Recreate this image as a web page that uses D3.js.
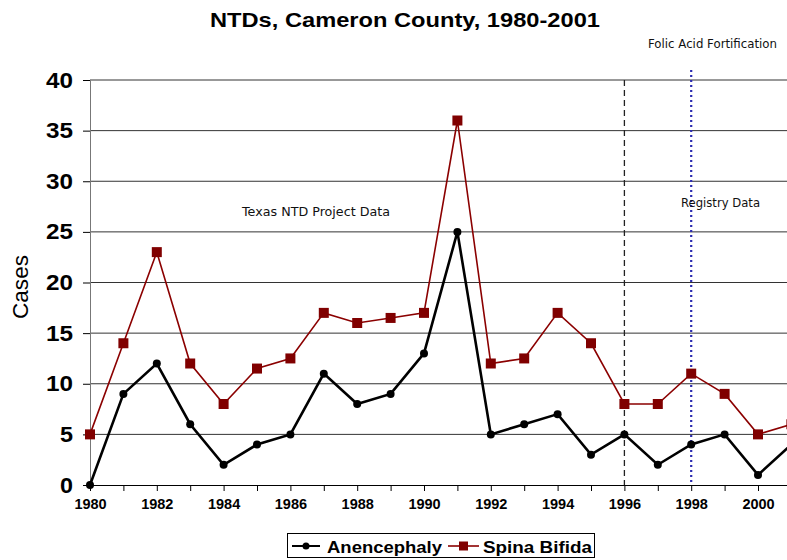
<!DOCTYPE html>
<html>
<head>
<meta charset="utf-8">
<script src="https://cdn.jsdelivr.net/npm/d3@7"></script>
<style>
  body { margin: 0; background: #fff; }
  svg { display: block; font-family: Arial, "Liberation Sans", sans-serif; }
</style>
</head>
<body>
<script>
// Data
const years = d3.range(1980, 2002)
const anencephaly = [0, 9, 12, 6, 2, 4, 5, 11, 8, 9, 13, 25, 5, 6, 7, 3, 5, 2, 4, 5, 1, 4]
const spinaBifida = [5, 14, 23, 12, 8, 11.5, 12.5, 17, 16, 16.5, 17, 36, 12, 12.5, 17, 14, 8, 8, 11, 9, 5, 6]
const yTicks = [0, 5, 10, 15, 20, 25, 30, 35, 40]
const xLabelYears = [1980, 1982, 1984, 1986, 1988, 1990, 1992, 1994, 1996, 1998, 2000]

const width = 787, height = 560
const margin = { top: 80, right: 0, bottom: 75, left: 90 }

const svg = d3.select('body').append('svg')
    .attr('width', width)
    .attr('height', height)

// Scales
const x = d3.scaleLinear().domain([1980, 2000]).range([margin.left, 758])
const y = d3.scaleLinear().domain([0, 40]).range([485, 80])

// clip for plot area (chart is cut at right)
svg.append('clipPath').attr('id', 'clip')
  .append('rect').attr('x', margin.left - 8).attr('y', 60).attr('width', width).attr('height', 440)

// Gridlines
svg.append('g').selectAll('line')
  .data(yTicks.filter(d => d > 0))
  .enter().append('line')
    .attr('x1', margin.left).attr('x2', width)
    .attr('y1', d => y(d)).attr('y2', d => y(d))
    .attr('stroke', '#333').attr('stroke-width', 1)

// Y axis
const yAxis = svg.append('g')
    .attr('transform', `translate(${margin.left},0)`)
    .call(d3.axisLeft(y).tickValues(yTicks).tickSize(7).tickPadding(10))
yAxis.select('.domain').attr('stroke', '#777')
yAxis.selectAll('.tick line').attr('stroke', '#000')
yAxis.selectAll('text').attr('font-size', 22).attr('font-weight', 'bold').attr('fill', '#000')
    .attr('textLength', d => d >= 10 ? 27 : 13).attr('lengthAdjust', 'spacingAndGlyphs')

// X axis
const xAxis = svg.append('g')
    .attr('transform', `translate(0,${y(0)})`)
    .call(d3.axisBottom(x).tickValues(years).tickSize(6).tickPadding(8)
      .tickFormat(d => xLabelYears.includes(d) ? d : ''))
xAxis.select('.domain').attr('d', `M${margin.left},0.5H${width}`).attr('stroke', '#000')
xAxis.selectAll('text').attr('font-size', 14.5).attr('font-weight', 'bold').attr('fill', '#000')

// Reference lines
svg.append('line')
    .attr('x1', x(1996)).attr('x2', x(1996))
    .attr('y1', y(40)).attr('y2', y(0))
    .attr('stroke', '#222').attr('stroke-width', 1.3).attr('stroke-dasharray', '6,4')
svg.append('line')
    .attr('x1', x(1998)).attr('x2', x(1998))
    .attr('y1', 70).attr('y2', y(0))
    .attr('stroke', '#2b2bb0').attr('stroke-width', 2.2).attr('stroke-dasharray', '2,3')

const plot = svg.append('g').attr('clip-path', 'url(#clip)')

// Spina Bifida line
const sbData = years.map((d, i) => ({ year: d, v: spinaBifida[i] }))
const anData = years.map((d, i) => ({ year: d, v: anencephaly[i] }))
const line = d3.line().x(d => x(d.year)).y(d => y(d.v))

plot.append('path').datum(sbData)
    .attr('d', line).attr('fill', 'none')
    .attr('stroke', '#8b0000').attr('stroke-width', 1.6)
plot.selectAll('rect.sb')
    .data(sbData)
    .enter().append('rect')
    .attr('class', 'sb')
    .attr('x', d => x(d.year) - 5).attr('y', d => y(d.v) - 5)
    .attr('width', 10).attr('height', 10)
    .attr('fill', '#800000')

// Anencephaly line
plot.append('path').datum(anData)
    .attr('d', line).attr('fill', 'none')
    .attr('stroke', '#000').attr('stroke-width', 2.6)
plot.selectAll('circle.an')
    .data(anData)
    .enter().append('circle')
    .attr('class', 'an')
    .attr('cx', d => x(d.year)).attr('cy', d => y(d.v))
    .attr('r', 4).attr('fill', '#000')

// Title and labels
svg.append('text')
    .attr('x', 210).attr('y', 27)
    .attr('font-size', 21).attr('font-weight', 'bold')
    .attr('textLength', 390).attr('lengthAdjust', 'spacingAndGlyphs')
    .text('NTDs, Cameron County, 1980-2001')

svg.append('text')
    .attr('transform', `translate(28,287) rotate(-90)`)
    .attr('text-anchor', 'middle')
    .attr('font-size', 22)
    .attr('textLength', 64).attr('lengthAdjust', 'spacingAndGlyphs')
    .text('Cases')

const note = (tx, ty, len, t) => svg.append('text')
    .attr('x', tx).attr('y', ty)
    .attr('font-family', 'Tahoma, "DejaVu Sans", "Liberation Sans", sans-serif')
    .attr('font-size', 12).attr('fill', '#111')
    .attr('textLength', len).attr('lengthAdjust', 'spacingAndGlyphs')
    .text(t)
note(648, 48, 129, 'Folic Acid Fortification')
note(242, 216, 148, 'Texas NTD Project Data')
note(681, 207, 79, 'Registry Data')

// Legend
const lg = svg.append('g')
lg.append('rect').attr('x', 287.5).attr('y', 533.5).attr('width', 307).attr('height', 24)
    .attr('fill', '#fff').attr('stroke', '#000')
lg.append('line').attr('x1', 292).attr('x2', 320).attr('y1', 546).attr('y2', 546)
    .attr('stroke', '#000').attr('stroke-width', 2)
lg.append('circle').attr('cx', 306).attr('cy', 546).attr('r', 3.5)
lg.append('text').attr('x', 327).attr('y', 553).attr('font-size', 17).attr('font-weight', 'bold')
    .attr('textLength', 115).attr('lengthAdjust', 'spacingAndGlyphs')
    .text('Anencephaly')
lg.append('line').attr('x1', 448).attr('x2', 479).attr('y1', 546).attr('y2', 546)
    .attr('stroke', '#8b0000').attr('stroke-width', 1.6)
lg.append('rect').attr('x', 459).attr('y', 541.5).attr('width', 9).attr('height', 9).attr('fill', '#800000')
lg.append('text').attr('x', 483).attr('y', 553).attr('font-size', 17).attr('font-weight', 'bold')
    .attr('textLength', 109).attr('lengthAdjust', 'spacingAndGlyphs')
    .text('Spina Bifida')
</script>
</body>
</html>
